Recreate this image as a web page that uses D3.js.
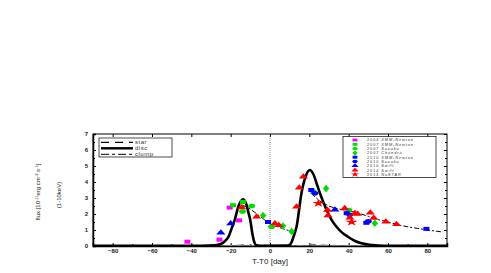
<!DOCTYPE html>
<meta charset="utf-8">
<style>
body { margin: 0; background: #fff; }
svg { font-family: "Liberation Sans", Arial, sans-serif; }
.axis path, .axis line { stroke: #000; }
.axis text { font-size: 6px; fill: #222; font-weight: bold; }
.leg text { fill: #333; }
</style>
<body>
<script src="https://d3js.org/d3.v7.min.js"></script>
<script>

var width = 491, height = 273;

// model curves: [T-T0, flux]
var discPts = [[-90,0.02],[-35,0.02],[-28,0.05],[-25,0.12],[-23,0.3],[-21,0.6],[-19.5,1.1],[-18,1.6],[-16,2.5],
  [-13.8,2.92],[-12,2.6],[-11,2.1],[-10,1.6],[-9,0.8],[-8,0.25],[-7,0.05],[-5,0.02],[9,0.03],[10,0.06],[11,0.25],
  [12,0.6],[13.5,1.2],[16,3.3],[18,4.3],[20.3,4.75],[22,4.5],[24,3.8],[25.4,3.3],[28.8,2.25],[31,1.7],[33.8,1.2],
  [36.5,0.85],[39.6,0.58],[43,0.33],[46.5,0.17],[52,0.06],[58,0.02],[90,0.02]];
var clumpPts1 = [[-14,2.55],[-10,2.3],[-5,1.85],[0,1.4],[5,1.15],[10,0.95],[13,0.85]];
var clumpPts2 = [[21,3.3],[25,2.85],[30,2.5],[35.5,2.3],[40,2.2],[45,2.05],[50,1.85],[55,1.65],[60,1.5],[66,1.3],[75,1.1],[88,0.87]];
var starPts = [[-90,0.03],[-17,0.03],[-13,0.09],[-9,0.03],[16,0.03],[21,0.1],[27,0.05],[35,0.03],[90,0.03]];

// observations
var xmm2004 = [[-42,0.27],[-25.7,0.4],[-20.5,2.4],[-15.7,1.6]];
var xmm2007 = [[-18.8,2.55],[-13.7,2.75],[22,3.4]];
var suzaku2007 = [[-14,2.15],[-9.3,2.5],[0.8,1.2],[40,2.25]];
var chandra2007 = [[-3.5,1.9],[6.6,1.25],[11,0.9],[28.5,3.6],[53.3,1.42]];
var xmm2010 = [[-1,1.5],[21,3.5],[39,2.05],[49,1.45],[79.5,1.07]];
var suzaku2010 = [[22.8,3.3],[40.5,1.95],[50,1.55]];
var swift2010 = [[-25,0.83],[-20,1.4],[33,2.27]];
var swift2014 = [[-14.4,2.4],[-6.8,1.83],[2.5,1.4],[4.5,1.3],[13.5,2.45],[14.9,3.64],[17,4.33],[29.2,2.25],
  [29.5,1.9],[38,2.35],[40.6,1.77],[43.2,2.04],[44.5,2.0],[51,2.08],[52.8,1.75],[58.9,1.52],[64.3,1.36]];
var nustar2014 = [[24.6,2.67],[41.5,1.5]];

var obsNames = ["2004 XMM-Newton","2007 XMM-Newton","2007 Suzaku","2007 Chandra","2010 XMM-Newton",
  "2010 Suzaku","2010 Swift","2014 Swift","2014 NuSTAR"];
var obsData = [xmm2004, xmm2007, suzaku2007, chandra2007, xmm2010, suzaku2010, swift2010, swift2014, nustar2014];
var obsColor = ["#ff00ff","#00dd00","#00dd00","#00dd00","#0000ff","#0000ff","#0000ff","#ff0000","#ff0000"];
var obsShape = [d3.symbolSquare, d3.symbolSquare, d3.symbolCircle, d3.symbolDiamond, d3.symbolSquare,
  d3.symbolCircle, d3.symbolTriangle, d3.symbolTriangle, d3.symbolStar];

var xTicks = [-80,-60,-40,-20,0,20,40,60,80];
var yTicks = [0,1,2,3,4,5,6,7];
var modelNames = ["star","disc","clump"];

var x = d3.scaleLinear().domain([-90, 90]).range([93, 447]);
var y = d3.scaleLinear().domain([0, 7]).range([246, 134]);

var svg = d3.select("body").append("svg")
    .attr("width", width)
    .attr("height", height);

// frame + ticks (inward)
svg.append("rect")
  .attr("x", x(-90)).attr("y", y(7))
  .attr("width", x(90) - x(-90)).attr("height", y(0) - y(7))
  .attr("fill", "none").attr("stroke", "#000").attr("stroke-width", 1);

var minorY = d3.range(0.5, 7, 1);
var minorX = d3.range(-90, 91, 10).filter(function(d){ return d % 20 != 0; });

svg.append("g").attr("class", "axis")
  .attr("transform", "translate(0," + y(0) + ")")
  .call(d3.axisBottom(x).tickValues(xTicks).tickSize(-3).tickPadding(3).tickFormat(d3.format("d")))
  .call(function(g){ g.select(".domain").attr("stroke-width", 1.5); });
svg.append("g").attr("class", "axis")
  .attr("transform", "translate(0," + y(7) + ")")
  .call(d3.axisTop(x).tickValues(xTicks).tickSize(-3).tickFormat(""))
  .call(function(g){ g.select(".domain").remove(); });
svg.append("g").attr("class", "axis")
  .attr("transform", "translate(" + x(-90) + ",0)")
  .call(d3.axisLeft(y).tickValues(yTicks).tickSize(-3).tickPadding(5).tickFormat(d3.format("d")))
  .call(function(g){ g.select(".domain").attr("stroke-width", 1.5); });
svg.append("g").attr("class", "axis")
  .attr("transform", "translate(" + x(90) + ",0)")
  .call(d3.axisRight(y).tickValues(yTicks).tickSize(-3).tickFormat(""))
  .call(function(g){ g.select(".domain").remove(); });
svg.append("g").attr("class", "axis")
  .attr("transform", "translate(" + x(-90) + ",0)")
  .call(d3.axisLeft(y).tickValues(minorY).tickSize(-2).tickFormat(""))
  .call(function(g){ g.select(".domain").remove(); });
svg.append("g").attr("class", "axis")
  .attr("transform", "translate(" + x(90) + ",0)")
  .call(d3.axisRight(y).tickValues(minorY).tickSize(-2).tickFormat(""))
  .call(function(g){ g.select(".domain").remove(); });
svg.append("g").attr("class", "axis")
  .attr("transform", "translate(0," + y(0) + ")")
  .call(d3.axisBottom(x).tickValues(minorX).tickSize(-2).tickFormat(""))
  .call(function(g){ g.select(".domain").remove(); });

// T0 marker
svg.append("line")
  .attr("x1", x(0)).attr("x2", x(0)).attr("y1", y(7)).attr("y2", y(0))
  .attr("stroke", "#666").attr("stroke-width", 0.7).attr("stroke-dasharray", "1,1");

var line = d3.line()
  .x(function(d){ return x(d[0]); })
  .y(function(d){ return y(d[1]); })
  .curve(d3.curveMonotoneX);

svg.append("path").datum(starPts).attr("d", line)
  .attr("fill", "none").attr("stroke", "#777").attr("stroke-width", 1.2).attr("stroke-dasharray", "7,5");
svg.append("path").datum(discPts).attr("d", line)
  .attr("fill", "none").attr("stroke", "#000").attr("stroke-width", 2.6);
[clumpPts1, clumpPts2].forEach(function(c){
  svg.append("path").datum(c).attr("d", line)
    .attr("fill", "none").attr("stroke", "#000").attr("stroke-width", 1).attr("stroke-dasharray", "5,2,2,2");
});

// data points (slightly wide, like the reference)
obsData.forEach(function(set, i){
  svg.append("g").selectAll("path")
    .data(set)
    .enter().append("path")
    .attr("transform", function(d){ return "translate(" + x(d[0]) + "," + y(d[1]) + ") scale(1.35,0.9)"; })
    .attr("d", d3.symbol().type(obsShape[i]).size(obsShape[i] == d3.symbolStar ? 26 : 20))
    .attr("fill", obsColor[i]);
});

// axis titles
svg.append("text")
  .attr("x", x(0)).attr("y", 263.5)
  .attr("text-anchor", "middle")
  .style("font-size", "8px").style("fill", "#222")
  .text("T-T0 [day]");

var yl = svg.append("text")
  .attr("transform", "translate(40,192) rotate(-90)")
  .attr("text-anchor", "middle")
  .style("font-size", "6px").style("fill", "#222");
yl.append("tspan").text("flux [10");
yl.append("tspan").attr("dy", -2).style("font-size", "4px").text("-11");
yl.append("tspan").attr("dy", 2).text("erg cm");
yl.append("tspan").attr("dy", -2).style("font-size", "4px").text("-2");
yl.append("tspan").attr("dy", 2).text(" s");
yl.append("tspan").attr("dy", -2).style("font-size", "4px").text("-1");
yl.append("tspan").attr("dy", 2).text("]");
svg.append("text")
  .attr("transform", "translate(61,195) rotate(-90)")
  .attr("text-anchor", "middle")
  .style("font-size", "6px").style("fill", "#222")
  .text("(1-10keV)");

// model legend
var lg = svg.append("g").attr("class", "leg");
lg.append("rect").attr("x", 99).attr("y", 138).attr("width", 73).attr("height", 19)
  .attr("fill", "#fff").attr("stroke", "#000").attr("stroke-width", 0.7);
var modelDash = ["8,6", null, "8,3,3,3"];
var modelW = [1.2, 2.4, 1];
modelNames.forEach(function(n, i){
  var yy = 142.3 + i * 6;
  lg.append("line").attr("x1", 101).attr("x2", 133).attr("y1", yy).attr("y2", yy)
    .attr("stroke", "#000").attr("stroke-width", modelW[i]).attr("stroke-dasharray", modelDash[i]);
  lg.append("text").attr("x", 135).attr("y", yy + 2).style("font-size", "6px")
    .style("letter-spacing", "0.5px").text(n);
});

// observation legend
var og = svg.append("g").attr("class", "leg");
og.append("rect").attr("x", 343).attr("y", 136.5).attr("width", 93).attr("height", 41)
  .attr("fill", "#fff").attr("stroke", "#000").attr("stroke-width", 0.7);
obsNames.forEach(function(n, i){
  var yy = 140 + i * 4.3;
  og.append("path").attr("transform", "translate(355," + yy + ") scale(1.4,0.85)")
    .attr("d", d3.symbol().type(obsShape[i]).size(12)).attr("fill", obsColor[i]);
  var parts = n.split(" ");
  var t = og.append("text").attr("x", 367).attr("y", yy + 1.4)
    .style("font-size", "3.9px").style("letter-spacing", "0.9px");
  t.append("tspan").text(parts[0] + " ");
  t.append("tspan").style("font-style", "italic").text(parts[1]);
});

</script>
</body>
